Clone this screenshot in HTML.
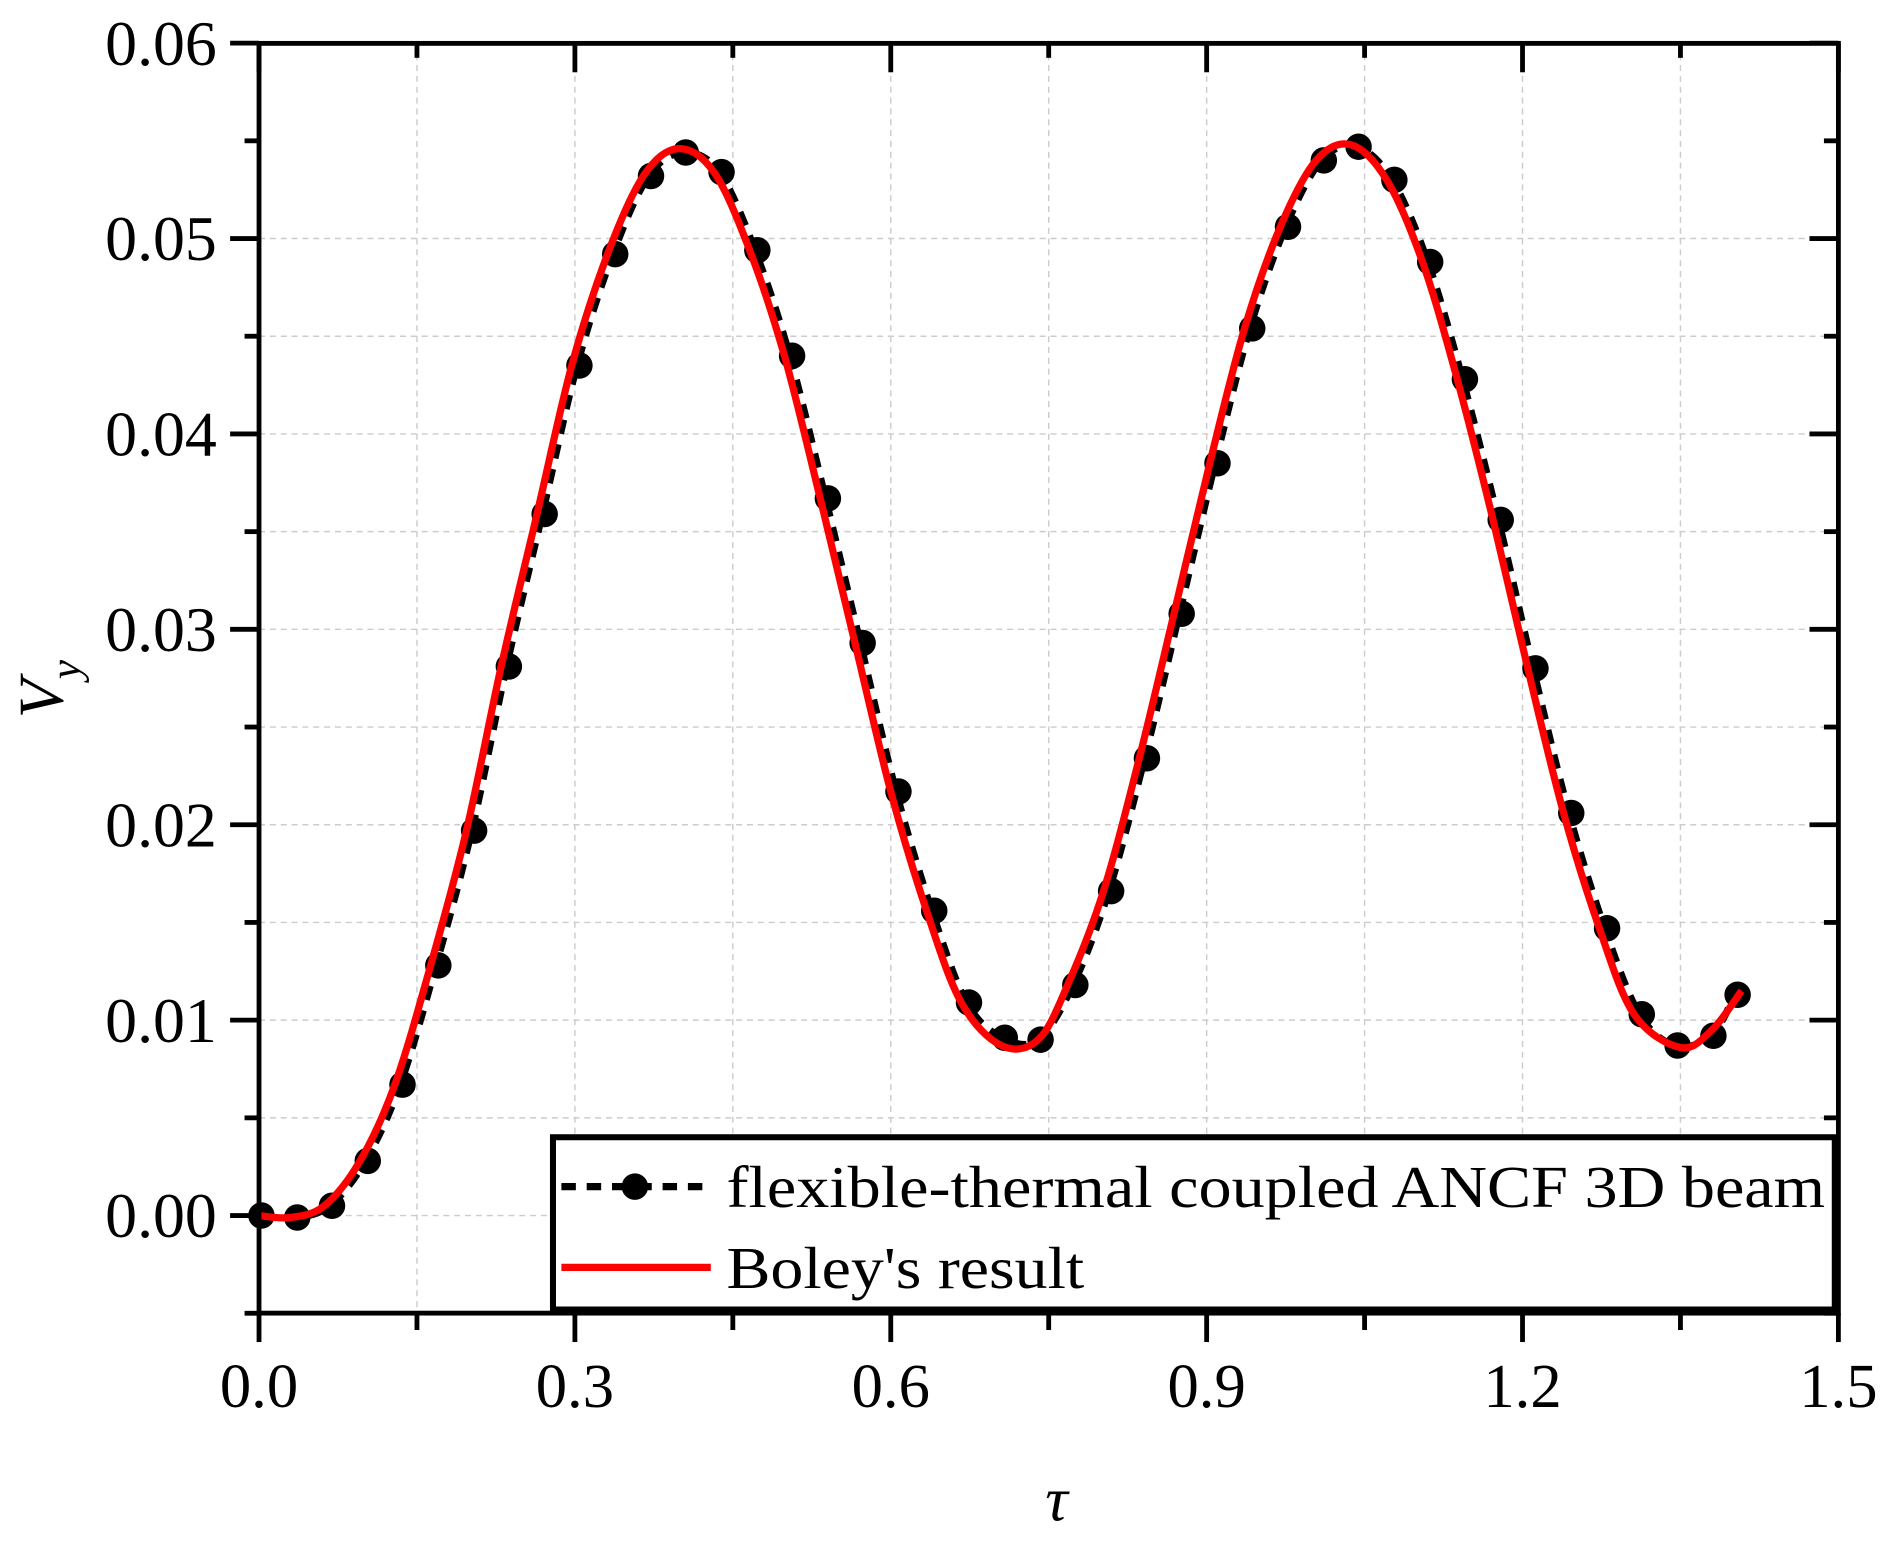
<!DOCTYPE html>
<html><head><meta charset="utf-8"><style>
html,body{margin:0;padding:0;background:#fff;}
svg{display:block;}
text{font-family:"Liberation Serif",serif;fill:#000;}
</style></head><body>
<svg id="chart" width="1889" height="1546" viewBox="0 0 1568 1283.3" xmlns="http://www.w3.org/2000/svg">
<g id="grid"></g>
<g id="series"></g>
<g id="axes"></g>
<text x="877" y="1262" font-size="52" font-style="italic" text-anchor="middle">τ</text>
<text transform="translate(52,572) rotate(-90)" font-size="53" font-style="italic" text-anchor="middle">V<tspan font-size="36" dy="14">y</tspan></text>
<g>
<rect x="459" y="944" width="1064" height="143" fill="#fff" stroke="#000" stroke-width="5"/>
<line x1="466" y1="985" x2="590" y2="985" stroke="#000" stroke-width="6" stroke-dasharray="12,9"/>
<circle cx="527" cy="985" r="11" fill="#000"/>
<text x="603" y="1002" font-size="49" textLength="912" lengthAdjust="spacingAndGlyphs">flexible-thermal coupled ANCF 3D beam</text>
<line x1="466" y1="1052" x2="590" y2="1052" stroke="#f00" stroke-width="6"/>
<text x="603" y="1069" font-size="49" textLength="297" lengthAdjust="spacingAndGlyphs">Boley's result</text>
</g>
</svg>
<script>
const xTicks=[0.0,0.3,0.6,0.9,1.2,1.5];
const xTickLabels=["0.0","0.3","0.6","0.9","1.2","1.5"];
const yTicks=[0,0.01,0.02,0.03,0.04,0.05,0.06];
const yTickLabels=["0.00","0.01","0.02","0.03","0.04","0.05","0.06"];
const ancfTau=[0,0.034,0.067,0.101,0.134,0.168,0.202,0.235,0.269,0.302,0.336,0.370,0.403,0.437,0.471,0.504,0.538,0.571,0.605,0.639,0.672,0.706,0.740,0.773,0.807,0.841,0.874,0.908,0.941,0.975,1.009,1.042,1.076,1.110,1.143,1.177,1.210,1.244,1.278,1.311,1.345,1.379,1.402];
const ancfVy=[0,-0.0001,0.0005,0.0028,0.0067,0.0128,0.0197,0.0281,0.0359,0.0435,0.0492,0.0532,0.0544,0.0534,0.0494,0.0440,0.0367,0.0293,0.0217,0.0156,0.0109,0.0091,0.0090,0.0118,0.0166,0.0234,0.0308,0.0385,0.0454,0.0506,0.0540,0.0547,0.0530,0.0488,0.0428,0.0356,0.0280,0.0206,0.0147,0.0103,0.0087,0.0092,0.0113];
const boleyTau=[0,0.030,0.062,0.096,0.129,0.163,0.197,0.230,0.264,0.297,0.331,0.365,0.398,0.432,0.466,0.499,0.533,0.566,0.600,0.634,0.667,0.705,0.740,0.768,0.802,0.836,0.869,0.903,0.936,0.970,1.004,1.037,1.071,1.105,1.138,1.172,1.205,1.239,1.273,1.306,1.350,1.380,1.408];
const boleyVy=[0,-0.0001,0.0005,0.0028,0.0067,0.0128,0.0197,0.0281,0.0359,0.0435,0.0492,0.0532,0.0546,0.0534,0.0494,0.0440,0.0367,0.0293,0.0217,0.0156,0.0109,0.0087,0.0090,0.0118,0.0166,0.0234,0.0308,0.0385,0.0454,0.0506,0.0540,0.0548,0.0530,0.0488,0.0428,0.0356,0.0280,0.0206,0.0147,0.0103,0.0086,0.0095,0.0115];
const NS="http://www.w3.org/2000/svg";
const L=215,R=1526,T=36,B=1090;
const X=v=>L+(v-0)/1.5*(R-L);
const Y=v=>1009-v*16220;
function mk(tag,attrs,parent){const e=document.createElementNS(NS,tag);for(const k in attrs)e.setAttribute(k,attrs[k]);parent.appendChild(e);return e;}
const grid=document.getElementById('grid'),axes=document.getElementById('axes'),series=document.getElementById('series');
for(let i=1;i<10;i++){const g=mk('line',{x1:X(i*0.15),x2:X(i*0.15),y1:T,y2:B,stroke:'#ccc','stroke-width':1.2,'stroke-dasharray':'5,4'},grid);

}
for(let i=0;i<12;i++){const v=-0.005+i*0.005;const yy=Y(v);if(yy<=T+1||yy>=B-1)continue;const g=mk('line',{x1:L,x2:R,y1:yy,y2:yy,stroke:'#ccc','stroke-width':1.2,'stroke-dasharray':'5,4'},grid);

}
const fr=mk('rect',{x:L,y:T,width:R-L,height:B-T,fill:'none',stroke:'#000','stroke-width':4},axes);


for(let i=0;i<=10;i++){const v=i*0.15,x=X(v),maj=i%2==0;
const t1=mk('line',{x1:x,x2:x,y1:B,y2:B+(maj?24:14),stroke:'#000','stroke-width':4},axes);


const t2=mk('line',{x1:x,x2:x,y1:T,y2:T+(maj?24:12),stroke:'#000','stroke-width':4},axes);

}
xTicks.forEach((v,i)=>{const t=mk('text',{x:X(v),y:1168,'font-size':52,'text-anchor':'middle'},axes);t.textContent=xTickLabels[i];

});
for(let i=0;i<=13;i++){const v=-0.005+i*0.005,y=Y(v),maj=i%2==1;
const t1=mk('line',{x1:L,x2:L-(maj?24:12),y1:y,y2:y,stroke:'#000','stroke-width':4},axes);


const t2=mk('line',{x1:R,x2:R-(maj?24:12),y1:y,y2:y,stroke:'#000','stroke-width':4},axes);

}
yTicks.forEach((v,i)=>{const t=mk('text',{x:180,y:Y(v)+18,'font-size':53,'text-anchor':'end'},axes);t.textContent=yTickLabels[i];

});
function smooth(xs,ys){const p=xs.map((x,i)=>[X(x),Y(ys[i])]);let d=`M${p[0][0]},${p[0][1]}`;
for(let i=0;i<p.length-1;i++){const p0=p[Math.max(0,i-1)],p1=p[i],p2=p[i+1],p3=p[Math.min(p.length-1,i+2)];
d+=` C${p1[0]+(p2[0]-p0[0])/6},${p1[1]+(p2[1]-p0[1])/6} ${p2[0]-(p3[0]-p1[0])/6},${p2[1]-(p3[1]-p1[1])/6} ${p2[0]},${p2[1]}`;}return d;}
const al=mk('path',{d:smooth(ancfTau,ancfVy),fill:'none',stroke:'#000','stroke-width':6,'stroke-dasharray':'12,9'},series);


ancfTau.forEach((t,i)=>{const c=mk('circle',{cx:X(t)+2,cy:Y(ancfVy[i]),r:11,fill:'#000'},series);

});
const bl=mk('path',{d:smooth(boleyTau,boleyVy),fill:'none',stroke:'#f00','stroke-width':6},series);


</script>
</body></html>
